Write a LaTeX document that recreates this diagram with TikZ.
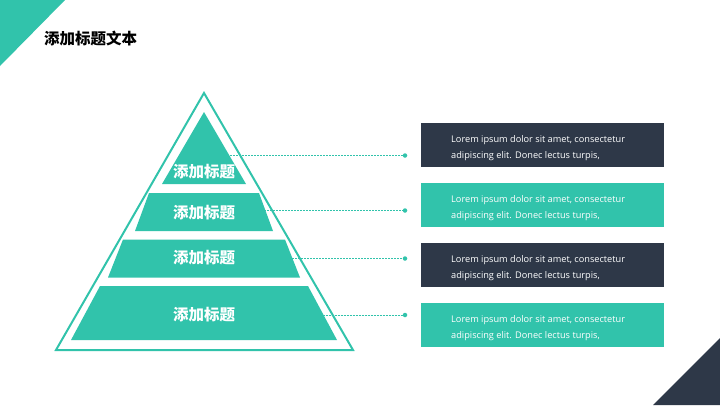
\documentclass[tikz,border=0pt]{standalone}
\usepackage{fontspec}
\setmainfont{Open Sans}
\newfontfamily\cjk{Noto Sans CJK SC}
\definecolor{teal1}{HTML}{31C3AB}
\definecolor{dark1}{HTML}{2E3848}
\begin{document}
\begin{tikzpicture}[x=1pt,y=-1pt,
  seg/.style={fill=teal1,draw=none},
  lbl/.style={text=white,font=\cjk\bfseries\fontsize{15.5}{15.5}\selectfont,inner sep=0pt},
  conn/.style={teal1,dashed,dash pattern=on 2pt off 1pt,line width=0.6pt},
  dotn/.style={circle,fill=teal1,inner sep=0pt,minimum size=4.5pt},
  boxd/.style={fill=dark1,draw=none,minimum width=243pt,minimum height=44pt,anchor=north west,inner sep=0pt},
  boxt/.style={fill=teal1,draw=none,minimum width=243pt,minimum height=44pt,anchor=north west,inner sep=0pt},
  btxt/.style={text=white,font=\fontsize{9.2}{16}\selectfont,align=left,anchor=west,inner sep=0pt}]
\useasboundingbox (0,0) rectangle (720,405);
% corner triangles
\fill[teal1] (0,0) -- (65,0) -- (0,66) -- cycle;
\fill[dark1] (720,338) -- (720,405) -- (653,405) -- cycle;
% title
\node[anchor=west,inner sep=0pt,font=\cjk\bfseries\fontsize{15.5}{15.5}\selectfont] (title) at (44,39) {添加标题文本};
% outer triangle
\draw[teal1,line width=2pt,line join=miter] (204,93) -- (353,350) -- (56,350) -- cycle;
% segments
\fill[seg] (204,112) -- (246,184) -- (162,184) -- cycle;
\fill[seg] (149,193) -- (259,193) -- (273,231) -- (135,231) -- cycle;
\fill[seg] (123,239.5) -- (285,239.5) -- (300,277.5) -- (108,277.5) -- cycle;
\fill[seg] (100,286) -- (308,286) -- (337,340) -- (71,340) -- cycle;
% labels
\node[lbl] (l1) at (204,172) {添加标题};
\node[lbl] (l2) at (204,213) {添加标题};
\node[lbl] (l3) at (204,258) {添加标题};
\node[lbl] (l4) at (204,315) {添加标题};
% boxes
\node[boxd] (b1) at (421,123) {};
\node[boxt] (b2) at (421,183) {};
\node[boxd] (b3) at (421,243) {};
\node[boxt] (b4) at (421,302.5) {};
\foreach \i in {1,2,3,4}{
  \node[btxt] (t\i) at ([xshift=30pt,yshift=-3pt]b\i.west) {Lorem ipsum dolor sit amet, consectetur\\adipiscing elit. Donec lectus turpis,};
}
% connectors
\coordinate (s1) at (230,155.5);
\coordinate (s2) at (261,210.5);
\coordinate (s3) at (289,258.5);
\coordinate (s4) at (322.5,315);
\node[dotn] (d1) at (405,155.5) {};
\node[dotn] (d2) at (405,210.5) {};
\node[dotn] (d3) at (405,258.5) {};
\node[dotn] (d4) at (405,315) {};
\foreach \i in {1,2,3,4}{ \draw[conn] (s\i) -- (d\i.center); }
\end{tikzpicture}
\end{document}
